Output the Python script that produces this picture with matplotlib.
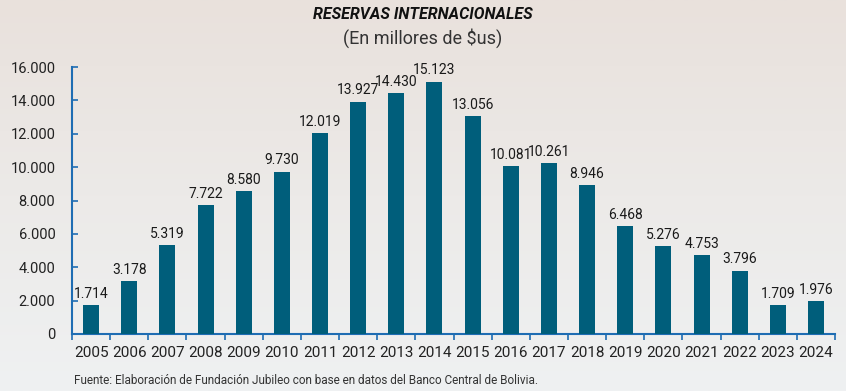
import matplotlib
matplotlib.use("Agg")
import matplotlib.pyplot as plt
import numpy as np
from matplotlib.colors import LinearSegmentedColormap

years = ["2005", "2006", "2007", "2008", "2009", "2010", "2011", "2012", "2013", "2014",
         "2015", "2016", "2017", "2018", "2019", "2020", "2021", "2022", "2023", "2024"]
values = [1714, 3178, 5319, 7722, 8580, 9730, 12019, 13927, 14430, 15123,
          13056, 10081, 10261, 8946, 6468, 5276, 4753, 3796, 1709, 1976]
yticks = [0, 2000, 4000, 6000, 8000, 10000, 12000, 14000, 16000]

FONT = ["Roboto", "DejaVu Sans"]
plt.rcParams["font.family"] = FONT

def fmt(v):
    return f"{v:,}".replace(",", ".")

fig = plt.figure(figsize=(8.46, 3.91), dpi=100)

# gradient background
bg = fig.add_axes([0, 0, 1, 1], zorder=-10)
cmap = LinearSegmentedColormap.from_list("bg", ["#e9e1dc", "#eceae8", "#eff1f2"])
grad = np.linspace(0, 1, 256).reshape(-1, 1)
bg.imshow(grad, aspect="auto", cmap=cmap, extent=[0, 1, 0, 1], origin="upper")
bg.axis("off")

ax = fig.add_axes([0.0851, 0.1458, 0.902, 0.6828])
ax.patch.set_alpha(0)
x = np.arange(len(years))
ax.bar(x, values, width=0.42, color="#005e7b", zorder=3)
for xi, v in zip(x, values):
    ax.text(xi, v + 250, fmt(v), ha="center", va="bottom", fontsize=10, color="#1a1a1a")

ax.set_xlim(-0.5, len(years) - 0.5)
ax.set_ylim(0, 16000)
ax.set_yticks(yticks)
ax.set_yticklabels([fmt(t) for t in yticks], fontsize=10.5, color="#222222")
ax.set_xticks(x)
ax.set_xticklabels(years, fontsize=11, color="#222222")
ax.set_xticks(np.arange(-0.5, len(years), 1), minor=True)
ax.tick_params(axis="x", which="major", length=0, pad=9)
ax.tick_params(axis="x", which="minor", length=4, direction="out", color="#1f6db3", width=1.2)
ax.tick_params(axis="y", length=4, direction="in", color="#1f6db3", width=1.2, pad=12)
for s in ["top", "right"]:
    ax.spines[s].set_visible(False)
for s in ["left", "bottom"]:
    ax.spines[s].set_color("#1f6db3")
    ax.spines[s].set_linewidth(1.5)

fig.text(0.5, 0.962, "RESERVAS INTERNACIONALES", ha="center", va="center",
         fontsize=11.5, fontweight="bold", fontstyle="italic", color="#111111")
fig.text(0.5, 0.903, "(En millores de $us)", ha="center", va="center",
         fontsize=13, color="#333333")
fig.text(0.088, 0.028, "Fuente: Elaboración de Fundación Jubileo con base en datos del Banco Central de Bolivia.",
         ha="left", va="center", fontsize=8.5, color="#333333")

fig.savefig("out.png", dpi=100)
